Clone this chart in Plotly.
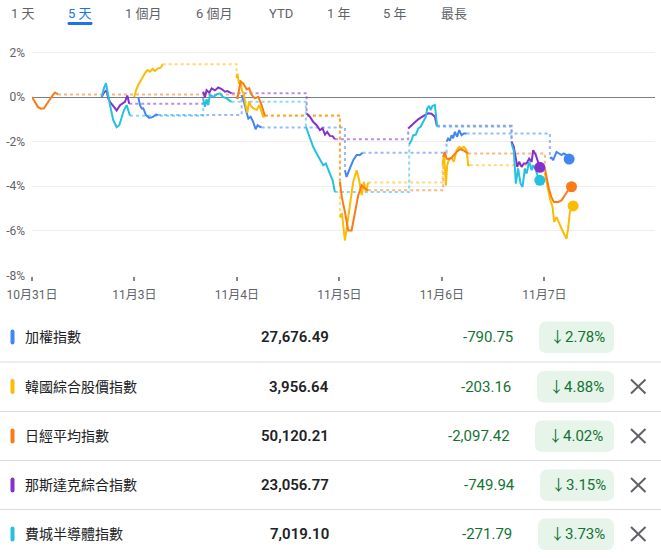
import plotly.graph_objects as go

W, H = 661, 558
FONT = "Roboto, 'Noto Sans CJK TC', sans-serif"

# ---------------- data ----------------
DAY_LABELS = ['10月31日', '11月3日', '11月4日', '11月5日', '11月6日', '11月7日']
Y_TICKS = [-8, -6, -4, -2, 0, 2]
Y_TICK_TEXT = ['-8%', '-6%', '-4%', '-2%', '0%', '2%']
TABS = ['1 天', '5 天', '1 個月', '6 個月', 'YTD', '1 年', '5 年', '最長']

NAMES = ['加權指數', '韓國綜合股價指數', '日經平均指數', '那斯達克綜合指數', '費城半導體指數']
COLORS = ['#4285f4', '#fbbc04', '#fa7b17', '#8430ce', '#24c1e0']
PRICES = ['27,676.49', '3,956.64', '50,120.21', '23,056.77', '7,019.10']
CHANGES = ['-790.75', '-203.16', '-2,097.42', '-749.94', '-271.79']
PCTS = [-2.78, -4.88, -4.02, -3.15, -3.73]

# time in trading-day units (0 = 10月31日), value in % change; one inner list per session
TAIEX_T = [
    [1.037, 1.054, 1.07, 1.086, 1.112, 1.144, 1.168, 1.183, 1.21, 1.232],
    [2.046, 2.068, 2.088, 2.111, 2.134, 2.159, 2.182, 2.202, 2.224, 2.241],
    [3.054, 3.07, 3.102, 3.135, 3.168, 3.2, 3.226],
    [4.046, 4.061, 4.078, 4.095, 4.11, 4.127, 4.149, 4.169, 4.192, 4.215, 4.241],
    [5.054, 5.07, 5.086, 5.102, 5.119, 5.144, 5.168, 5.19, 5.217, 5.242],
]
TAIEX_V = [
    [0, -0.36, -0.51, -0.5, -0.81, -0.93, -0.91, -0.88, -0.78, -0.8],
    [0.09, -0.2, -0.58, -0.96, -0.88, -1.11, -1.44, -1.26, -1.33, -1.36],
    [-3.28, -3.58, -3.2, -2.83, -2.6, -2.6, -2.5],
    [-2.0, -1.86, -1.95, -1.71, -1.85, -1.56, -1.78, -1.48, -1.71, -1.63, -1.63],
    [-2.74, -2.72, -2.83, -2.6, -2.46, -2.53, -2.6, -2.53, -2.6, -2.78],
]

KOSPI_T = [
    [0.998, 1.015, 1.037, 1.07, 1.102, 1.125, 1.151, 1.178, 1.2, 1.232, 1.256, 1.275],
    [1.997, 2.005, 2.02, 2.036, 2.049, 2.068, 2.088, 2.102, 2.117, 2.137, 2.159, 2.192, 2.218, 2.241, 2.257, 2.273],
    [3.005, 3.024, 3.054, 3.076, 3.102, 3.135, 3.168, 3.193, 3.217, 3.239, 3.259, 3.281],
    [4.007, 4.022, 4.039, 4.052, 4.071, 4.095, 4.117, 4.144, 4.169, 4.192, 4.215, 4.241, 4.257, 4.273],
    [5.005, 5.027, 5.054, 5.08, 5.096, 5.119, 5.151, 5.183, 5.217, 5.232, 5.249, 5.281],
]
KOSPI_V = [
    [0, 0.3, 0.54, 0.84, 1.07, 1.21, 1.14, 1.26, 1.17, 1.29, 1.32, 1.47],
    [0.85, 1.05, 0.6, 0.75, 0.3, 0.1, -0.45, -0.7, -0.2, -0.4, -0.5, -0.58, -0.36, -0.66, -0.9, -0.8],
    [-5.4, -5.2, -6.43, -5.75, -4.85, -3.8, -3.28, -3.73, -4.4, -3.8, -4.26, -3.83],
    [-3.06, -2.53, -3.96, -3.06, -2.76, -2.72, -2.9, -2.38, -2.23, -2.3, -2.23, -2.38, -3.06, -3.06],
    [-3.4, -3.96, -4.55, -4.93, -5.6, -5.38, -5.75, -6.05, -6.35, -5.9, -5.15, -4.88],
]

NIKKEI_T = [
    [0, 0.029, 0.059, 0.088, 0.117, 0.146, 0.176, 0.205, 0.224, 0.254],
    [2.003, 2.036, 2.061, 2.095, 2.12, 2.143, 2.176, 2.208, 2.241, 2.273],
    [3.005, 3.024, 3.054, 3.086, 3.119, 3.151, 3.184, 3.217, 3.249, 3.281],
    [4.013, 4.029, 4.046, 4.071, 4.095, 4.117, 4.144, 4.176, 4.208, 4.234, 4.257],
    [5.005, 5.024, 5.044, 5.07, 5.093, 5.135, 5.168, 5.2, 5.232, 5.265],
]
NIKKEI_V = [
    [0, -0.25, -0.45, -0.52, -0.5, -0.3, -0.08, 0.1, 0.2, 0.12],
    [-0.1, 0.69, 0.62, 0.35, 0.39, 0.09, -0.06, 0.01, -0.36, -0.85],
    [-3.8, -4.5, -5.15, -5.98, -5.98, -5.15, -4.4, -3.96, -4.1, -4.18],
    [-2.68, -2.46, -2.76, -2.78, -2.72, -2.6, -2.46, -2.34, -2.38, -2.46, -2.53],
    [-3.2, -3.7, -4.1, -4.5, -4.7, -4.7, -4.63, -4.4, -4.18, -4.02],
]

NASDAQ_T = [
    [0.68, 0.702, 0.729, 0.744, 0.761, 0.793, 0.826, 0.859, 0.891, 0.907, 0.93, 0.949],
    [1.671, 1.688, 1.704, 1.73, 1.753, 1.785, 1.818, 1.851, 1.883, 1.906, 1.932, 1.948],
    [2.68, 2.712, 2.744, 2.778, 2.81, 2.836, 2.859, 2.881, 2.907, 2.934, 2.956],
    [3.671, 3.704, 3.737, 3.769, 3.802, 3.834, 3.866, 3.899, 3.932, 3.951],
    [4.68, 4.702, 4.722, 4.735, 4.754, 4.778, 4.8, 4.827, 4.852, 4.876, 4.891, 4.917, 4.956],
]
NASDAQ_V = [
    [0, 0.2, 0.31, -0.06, -0.21, -0.4, -0.6, -0.36, -0.25, -0.21, 0.07, -0.3],
    [0.24, 0.0, 0.31, 0.2, 0.39, 0.3, 0.43, 0.36, 0.24, 0.27, 0.21, 0.17],
    [-0.73, -0.88, -1.11, -1.26, -1.48, -1.4, -1.68, -1.56, -1.74, -1.75, -1.89],
    [-1.41, -1.26, -1.11, -1.0, -0.9, -0.81, -0.73, -0.75, -0.88, -1.29],
    [-2.0, -2.23, -2.76, -3.13, -2.9, -3.13, -2.98, -2.98, -2.76, -2.9, -2.38, -2.6, -3.15],
]

SOX_T = [
    [0.68, 0.702, 0.722, 0.735, 0.761, 0.793, 0.826, 0.852, 0.875, 0.898, 0.924, 0.94, 0.956],
    [1.671, 1.688, 1.704, 1.72, 1.737, 1.769, 1.802, 1.834, 1.866, 1.9, 1.932, 1.948],
    [2.673, 2.696, 2.719, 2.744, 2.778, 2.81, 2.842, 2.868, 2.891, 2.914, 2.934, 2.956],
    [3.681, 3.704, 3.72, 3.746, 3.769, 3.792, 3.818, 3.844, 3.857, 3.876, 3.89, 3.909, 3.932, 3.954],
    [4.68, 4.702, 4.722, 4.744, 4.768, 4.787, 4.81, 4.827, 4.852, 4.876, 4.891, 4.917, 4.939, 4.956],
]
SOX_V = [
    [0, 0.4, 0.62, 0.24, -0.36, -1.03, -1.35, -1.26, -0.95, -0.58, -0.36, -0.66, -0.84],
    [-0.1, -0.43, -0.1, -0.36, 0.12, 0.0, 0.12, 0.17, 0.0, -0.05, -0.18, -0.21],
    [-1.33, -1.63, -1.93, -2.23, -2.53, -2.83, -3.06, -2.98, -3.28, -3.51, -3.73, -4.26],
    [-2.13, -1.93, -1.71, -1.68, -1.41, -1.33, -1.11, -0.88, -0.51, -0.39, -0.58, -0.39, -0.36, -1.33],
    [-2.08, -2.4, -3.88, -3.2, -3.88, -4.03, -3.2, -3.43, -2.9, -3.28, -3.06, -3.28, -3.6, -3.73],
]

SERIES = [(TAIEX_T, TAIEX_V), (KOSPI_T, KOSPI_V), (NIKKEI_T, NIKKEI_V),
          (NASDAQ_T, NASDAQ_V), (SOX_T, SOX_V)]


# ---------------- helpers ----------------
def px(x):
    return x / W


def py(y):
    return 1 - y / H


def sessions_joined(ts, vs):
    xs, ys = [], []
    for t, v in zip(ts, vs):
        xs += list(t) + [None]
        ys += list(v) + [None]
    return xs, ys


def connectors(ts, vs):
    xs, ys = [], []
    for i in range(len(ts) - 1):
        xs += [ts[i][-1], ts[i + 1][0], ts[i + 1][0], None]
        ys += [vs[i][-1], vs[i][-1], vs[i + 1][0], None]
    return xs, ys


def rounded(x0, y0, x1, y1, r):
    def P(x, y):
        return f"{px(x):.5f},{py(y):.5f}"
    return (f"M {P(x0 + r, y0)} L {P(x1 - r, y0)} Q {P(x1, y0)} {P(x1, y0 + r)} "
            f"L {P(x1, y1 - r)} Q {P(x1, y1)} {P(x1 - r, y1)} L {P(x0 + r, y1)} "
            f"Q {P(x0, y1)} {P(x0, y1 - r)} L {P(x0, y0 + r)} Q {P(x0, y0)} {P(x0 + r, y0)} Z")


fig = go.Figure()

# dotted connectors (market closed)
for (ts, vs), c in zip(SERIES, COLORS):
    cx, cy = connectors(ts, vs)
    fig.add_trace(go.Scatter(x=cx, y=cy, mode='lines', opacity=0.55,
                             line=dict(color=c, width=2, dash='3px,3px'),
                             hoverinfo='skip', showlegend=False))

# solid session lines
for (ts, vs), c in zip(SERIES, COLORS):
    sx, sy = sessions_joined(ts, vs)
    fig.add_trace(go.Scatter(x=sx, y=sy, mode='lines',
                             line=dict(color=c, width=2),
                             hoverinfo='skip', showlegend=False))

# end dots
for (ts, vs), c in zip(SERIES, COLORS):
    fig.add_trace(go.Scatter(x=[ts[-1][-1]], y=[vs[-1][-1]], mode='markers',
                             marker=dict(color=c, size=11),
                             hoverinfo='skip', showlegend=False))

shapes = []
annotations = []

# tabs
tab_centers = [22.5, 80, 143.5, 214.5, 280.5, 338.5, 395, 454.5]
for i, (label, cxp) in enumerate(zip(TABS, tab_centers)):
    annotations.append(dict(x=px(cxp), y=py(13.5), xref='paper', yref='paper',
                            text=label, showarrow=False, xanchor='center', yanchor='middle',
                            font=dict(family=FONT, size=13,
                                      color='#1a73e8' if i == 1 else '#5f6368')))
shapes.append(dict(type='path', xref='paper', yref='paper',
                   path=rounded(67.5, 22, 92.5, 25, 1.5),
                   fillcolor='#1a73e8', line=dict(width=0)))

# table
row_centers = [337, 386.5, 436, 485, 534]
separators = [362, 411.5, 460.5, 509.5]
change_right = [514, 512, 511, 516, 513]
chip_left = [539, 537, 535, 540, 538]

for yy in separators:
    shapes.append(dict(type='line', xref='paper', yref='paper',
                       x0=0, x1=1, y0=py(yy), y1=py(yy),
                       line=dict(color='#dadce0', width=1)))

for i in range(len(NAMES)):
    cy = row_centers[i]
    shapes.append(dict(type='path', xref='paper', yref='paper',
                       path=rounded(10.5, cy - 7.5, 14.5, cy + 7.5, 2),
                       fillcolor=COLORS[i], line=dict(width=0)))
    annotations.append(dict(x=px(23), y=py(cy), xref='paper', yref='paper',
                            text=NAMES[i], showarrow=False, xanchor='left', yanchor='middle',
                            font=dict(family=FONT, size=14, color='#202124')))
    annotations.append(dict(x=px(331), y=py(cy), xref='paper', yref='paper',
                            text=PRICES[i], showarrow=False, xanchor='right', yanchor='middle',
                            font=dict(family=FONT, size=15, color='#202124', weight=600)))
    annotations.append(dict(x=px(change_right[i] + 1), y=py(cy), xref='paper', yref='paper',
                            text=CHANGES[i], showarrow=False, xanchor='right', yanchor='middle',
                            font=dict(family=FONT, size=15, color='#137333')))
    shapes.append(dict(type='path', xref='paper', yref='paper',
                       path=rounded(chip_left[i], cy - 15.5, 614, cy + 16, 8),
                       fillcolor='#e6f4ea', line=dict(width=0)))
    annotations.append(dict(x=px((chip_left[i] + 614) / 2 + 1), y=py(cy), xref='paper', yref='paper',
                            text=f"↓{abs(PCTS[i]):.2f}%", showarrow=False,
                            xanchor='center', yanchor='middle',
                            font=dict(family=FONT, size=15, color='#137333')))
    if i > 0:
        for (a, b) in [((631, cy - 7), (645.5, cy + 7)), ((631, cy + 7), (645.5, cy - 7))]:
            shapes.append(dict(type='line', xref='paper', yref='paper',
                               x0=px(a[0]), y0=py(a[1]), x1=px(b[0]), y1=py(b[1]),
                               line=dict(color='#5f6368', width=2)))

fig.update_layout(
    width=W, height=H,
    autosize=False,
    margin=dict(l=0, r=0, t=0, b=0, pad=0),
    paper_bgcolor='white', plot_bgcolor='white',
    font=dict(family=FONT),
    showlegend=False,
    shapes=shapes,
    annotations=annotations,
    xaxis=dict(domain=[32 / W, 655 / W], range=[0, 6.08], automargin=False,
               tickmode='array', tickvals=list(range(len(DAY_LABELS))), ticktext=DAY_LABELS,
               showgrid=False, zeroline=False, showline=False,
               ticks='outside', ticklen=4, tickwidth=1.5, tickcolor='#80868b',
               ticklabelstandoff=4,
               tickfont=dict(family=FONT, size=12, color='#5f6368'), fixedrange=True),
    yaxis=dict(domain=[1 - 275.5 / H, 1 - 44 / H], range=[-8, 2.38], automargin=False,
               tickmode='array', tickvals=Y_TICKS, ticktext=Y_TICK_TEXT,
               showgrid=True, gridcolor='#eeeeee', gridwidth=1,
               zeroline=True, zerolinecolor='#7a7f85', zerolinewidth=1.2,
               showline=False, ticks='', ticklabelstandoff=6,
               tickfont=dict(family=FONT, size=12, color='#5f6368'), fixedrange=True),
)

fig.write_html(
    "out.html",
    config={'displayModeBar': False},
    post_script="document.documentElement.style.margin='0';document.body.style.margin='0';"
                "document.body.style.padding='0';document.body.style.overflow='hidden';"
                "document.documentElement.style.overflow='hidden';",
)
